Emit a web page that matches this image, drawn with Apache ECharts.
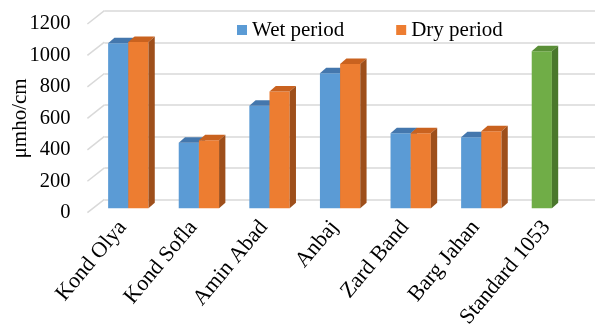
<!DOCTYPE html>
<html>
<head>
<meta charset="utf-8">
<script src="https://cdn.jsdelivr.net/npm/echarts@6/dist/echarts.min.js"></script>
<style>
  html, body { margin: 0; padding: 0; background: #fff; }
  #chart { width: 595px; height: 326px; }
</style>
</head>
<body>
<div id="chart"></div>
<script>
// Electrical conductivity per station, wet vs dry period
const categories = ['Kond Olya', 'Kond Sofla', 'Amin Abad', 'Anbaj', 'Zard Band', 'Barg Jahan', 'Standard 1053'];
const wetPeriod = [1050, 418, 653, 860, 478, 452, null];
const dryPeriod = [1058, 433, 743, 919, 478, 490, null];
const standardLimit = [null, null, null, null, null, null, 1000];
const yTicks = [0, 200, 400, 600, 800, 1000, 1200];

const FONT = '"Liberation Serif", "Times New Roman", serif';

// pseudo-3D depth offsets (pixels)
const WALL_DX = 17, WALL_DY = 13.4;   // front edge -> back wall
const BAR_DX = 6.3, BAR_DY = 5.5;     // bar front face -> bar back face

const palette = {
  wet: { front: '#5B9BD5', top: '#4477AD', side: '#3A6694' },
  dry: { front: '#ED7D31', top: '#C9621F', side: '#9E4F1B' },
  std: { front: '#70AD47', top: '#5A8F37', side: '#4A772C' }
};

function toPoints(values) {
  const out = [];
  values.forEach((v, i) => { if (v != null) out.push([i, v]); });
  return out;
}

// draws a box-shaped column: front face, top and right side
function boxBar(slot, fills) {
  return function (params, api) {
    const i = api.value(0), v = api.value(1);
    const base = api.coord([i, 0]);
    const top = api.coord([i, v]);
    const band = api.size([1, 0])[0];
    const w = band / 3.5;
    const x0 = base[0] - w + slot * w, x1 = x0 + w;
    const y0 = top[1], y1 = base[1];
    return {
      type: 'group',
      children: [
        { type: 'rect', shape: { x: x0, y: y0, width: w, height: y1 - y0 }, style: { fill: fills.front } },
        { type: 'polygon', shape: { points: [[x0, y0], [x0 + BAR_DX, y0 - BAR_DY], [x1 + BAR_DX, y0 - BAR_DY], [x1, y0]] }, style: { fill: fills.top } },
        { type: 'polygon', shape: { points: [[x1, y0], [x1 + BAR_DX, y0 - BAR_DY], [x1 + BAR_DX, y1 - BAR_DY], [x1, y1]] }, style: { fill: fills.side } }
      ]
    };
  };
}

const gridStyle = { color: '#D9D9D9', width: 1.5 };

const chart = echarts.init(document.getElementById('chart'), null, { renderer: 'canvas' });
chart.setOption({
  animation: false,
  backgroundColor: '#fff',
  textStyle: { fontFamily: FONT },
  legend: {
    data: ['Wet period', 'Dry period'],
    left: 232, top: 14,
    icon: 'rect', itemWidth: 10, itemHeight: 10, itemGap: 52,
    textStyle: { fontFamily: FONT, fontSize: 21, color: '#000', lineHeight: 22 }
  },
  grid: [
    // front plane: axis labels and wall edges
    { left: 87.4, top: 24, width: 494.2, height: 188.7, outerBoundsMode: 'none' },
    // column plane
    { left: 93, top: 19.8, width: 494.2, height: 188.5, outerBoundsMode: 'none' },
    // back wall: gridlines
    { left: 104.4, top: 11, width: 494.2, height: 188.3, outerBoundsMode: 'none' }
  ],
  xAxis: [
    {
      gridIndex: 0, type: 'category', data: categories,
      axisLine: { show: false }, axisTick: { show: false },
      axisLabel: { interval: 0, rotate: 50, margin: 11, fontFamily: FONT, fontSize: 22, color: '#000' }
    },
    { gridIndex: 1, type: 'category', data: categories, show: false },
    { gridIndex: 2, type: 'category', data: categories, show: false }
  ],
  yAxis: [
    {
      gridIndex: 0, type: 'value', min: 0, max: 1200, interval: 200,
      axisLine: { show: false }, axisTick: { show: false }, splitLine: { show: false },
      axisLabel: { margin: 17, fontFamily: FONT, fontSize: 20.5, color: '#000', formatter: v => String(v) },
      name: 'μmho/cm', nameLocation: 'middle', nameGap: 56, nameMoveOverlap: false,
      nameTextStyle: { fontFamily: FONT, fontSize: 21, color: '#000' }
    },
    { gridIndex: 1, type: 'value', min: 0, max: 1200, interval: 200, show: false },
    {
      gridIndex: 2, type: 'value', min: 0, max: 1200, interval: 200,
      axisLine: { show: false }, axisTick: { show: false }, axisLabel: { show: false },
      splitLine: { show: true, lineStyle: gridStyle }
    }
  ],
  series: [
    {
      // side-wall edges joining the front axis to the back-wall gridlines
      type: 'custom', xAxisIndex: 0, yAxisIndex: 0, silent: true, clip: false,
      data: yTicks.map(v => [0, v]),
      renderItem: function (params, api) {
        const y = api.coord([0, api.value(1)])[1];
        const x = params.coordSys.x;
        return { type: 'line', shape: { x1: x, y1: y, x2: x + WALL_DX, y2: y - WALL_DY }, style: { stroke: gridStyle.color, lineWidth: gridStyle.width } };
      },
      z: 1
    },
    {
      name: 'Wet period', type: 'custom', xAxisIndex: 1, yAxisIndex: 1, clip: false,
      itemStyle: { color: palette.wet.front },
      data: toPoints(wetPeriod), renderItem: boxBar(0, palette.wet), z: 3
    },
    {
      name: 'Dry period', type: 'custom', xAxisIndex: 1, yAxisIndex: 1, clip: false,
      itemStyle: { color: palette.dry.front },
      data: toPoints(dryPeriod), renderItem: boxBar(1, palette.dry), z: 4
    },
    {
      name: 'Standard', type: 'custom', xAxisIndex: 1, yAxisIndex: 1, clip: false,
      itemStyle: { color: palette.std.front },
      data: toPoints(standardLimit), renderItem: boxBar(0, palette.std), z: 3
    }
  ]
});
</script>
</body>
</html>
